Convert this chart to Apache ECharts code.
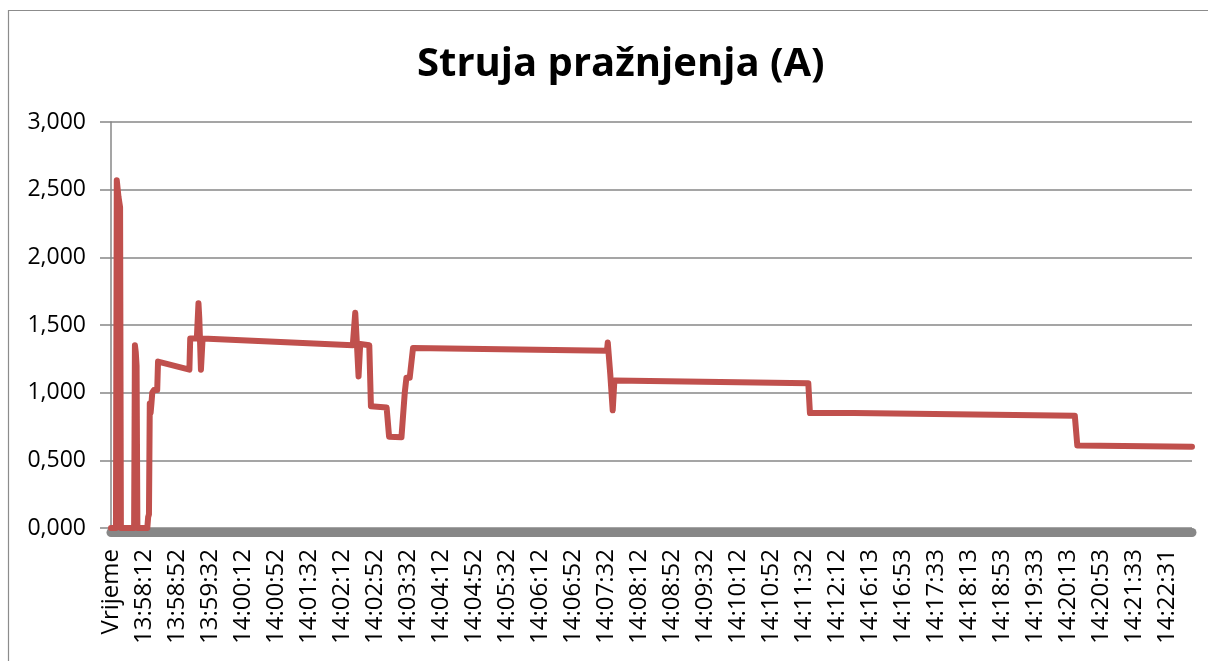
<!DOCTYPE html>
<html>
<head>
<meta charset="utf-8">
<script src="https://cdn.jsdelivr.net/npm/echarts@6/dist/echarts.min.js"></script>
<style>
html,body{margin:0;padding:0;background:#fff;}
#chart{width:1208px;height:661px;}
</style>
</head>
<body>
<div id="chart"></div>
<script>
// Tick labels on the category (time) axis: one every 40 samples
const timeLabels = ['Vrijeme','13:58:12','13:58:52','13:59:32','14:00:12','14:00:52','14:01:32','14:02:12','14:02:52','14:03:32','14:04:12','14:04:52','14:05:32','14:06:12','14:06:52','14:07:32','14:08:12','14:08:52','14:09:32','14:10:12','14:10:52','14:11:32','14:12:12','14:16:13','14:16:53','14:17:33','14:18:13','14:18:53','14:19:33','14:20:13','14:20:53','14:21:33','14:22:31'];
const samplesPerLabel = 40;
const sampleCount = 1310;

// Discharge current breakpoints (sample index, current in A)
const sampleIndex = [0,6,7,9,11,12,28,29,30,31,32,44,45,46,47,48,49,50,52,56,57,95,96,104,106,107,109,111,112,293,295,296,298,300,302,313,315,334,337,352,356,358,362,366,601,602,605,607,608,610,845,847,900,902,1168,1171,1310];
const current = [0,0,2.57,2.45,2.37,0,0,1.35,1.30,1.20,0,0,0.08,0.10,0.92,0.85,0.92,1.00,1.02,1.02,1.23,1.17,1.40,1.40,1.66,1.55,1.17,1.40,1.39,1.35,1.36,1.59,1.36,1.12,1.36,1.35,0.90,0.89,0.675,0.67,1.00,1.11,1.11,1.33,1.31,1.37,1.14,1.14,0.87,1.09,1.07,0.85,0.85,0.84,0.83,0.61,0.60];

const yTicks = [0,0.5,1,1.5,2,2.5,3];

const seriesData = sampleIndex.map((x,i)=>[x,current[i]]);
const FONT = 'Open Sans';

const chart = echarts.init(document.getElementById('chart'), null, {renderer:'canvas'});
chart.setOption({
  backgroundColor:'#ffffff',
  animation:false,
  title:{
    text:'Struja pražnjenja (A)',
    left:412, top:40,
    textStyle:{fontFamily:FONT,fontWeight:'bold',fontSize:40,color:'#000'}
  },
  graphic:[{
    type:'rect', silent:true, z:-1,
    shape:{x:8.5,y:10.5,width:1260,height:700},
    style:{fill:'none',stroke:'#8c8c8c',lineWidth:1.2}
  }],
  grid:{left:111,right:16,top:122,bottom:133,containLabel:false},
  xAxis:{
    type:'value',
    min:0,max:sampleCount,interval:samplesPerLabel,
    offset:4,
    axisLine:{show:true,onZero:false,lineStyle:{color:'#878787',width:9}},
    axisTick:{show:false},
    splitLine:{show:false},
    axisLabel:{
      rotate:90, margin:17,
      fontFamily:FONT,fontSize:24,color:'#000',
      showMaxLabel:false,
      formatter:function(v){
        if (v % samplesPerLabel !== 0) return '';
        const k = v/samplesPerLabel;
        return timeLabels[k] || '';
      }
    }
  },
  yAxis:{
    type:'value',
    min:yTicks[0],max:yTicks[yTicks.length-1],interval:yTicks[1]-yTicks[0],
    axisLine:{show:true,lineStyle:{color:'#878787',width:1.5}},
    axisTick:{show:true,length:11,lineStyle:{color:'#878787',width:1.5}},
    splitLine:{show:true,lineStyle:{color:'#878787',width:1.5}},
    axisLabel:{
      margin:25,fontFamily:FONT,fontSize:23,color:'#000',
      formatter:function(v){return v.toFixed(3).replace('.',',');}
    }
  },
  series:[{
    type:'line',
    data:seriesData,
    showSymbol:false,
    symbol:'none',
    lineStyle:{color:'#C0504D',width:6,join:'round',cap:'round'},
    z:3
  }]
});
</script>
</body>
</html>
